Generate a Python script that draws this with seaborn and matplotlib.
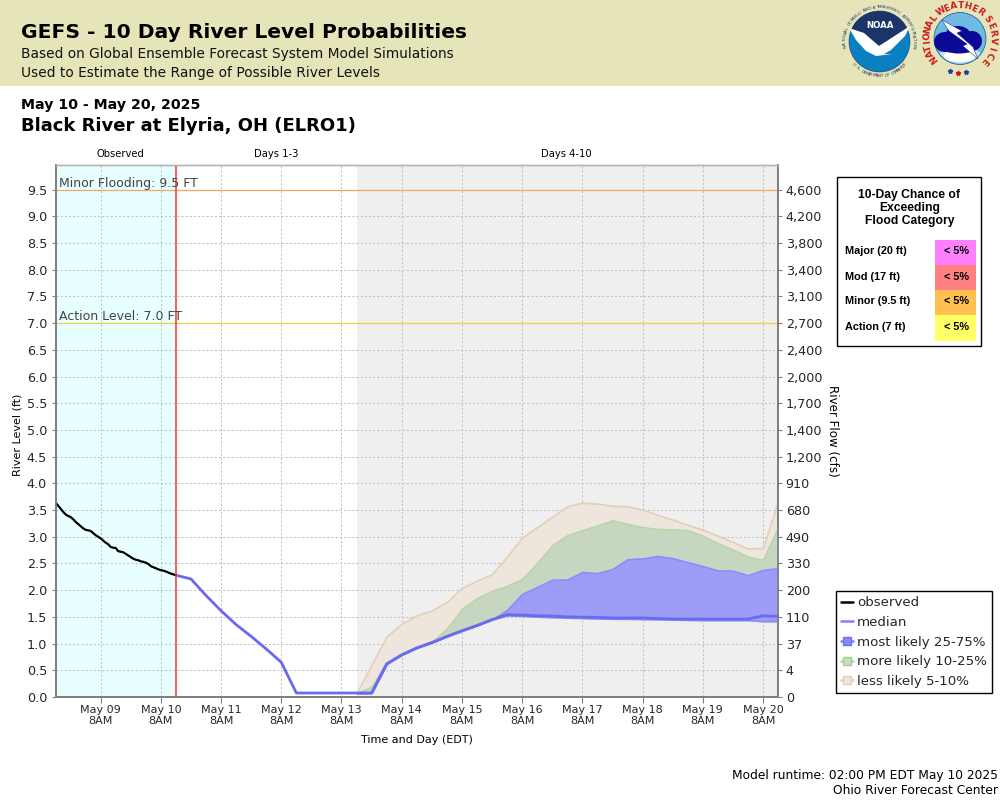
import numpy as np
import pandas as pd
import matplotlib
matplotlib.use("Agg")
import matplotlib.pyplot as plt
import seaborn as sns
from matplotlib.lines import Line2D
from matplotlib.patches import Rectangle, Circle, Polygon, Ellipse, Wedge

observed = [3.64,3.585,3.53,3.47,3.42,3.39,3.37,3.33,3.28,3.24,3.20,3.16,3.13,3.12,3.11,3.07,3.03,3.00,2.97,2.93,
            2.89,2.86,2.81,2.795,2.79,2.73,2.72,2.71,2.68,2.65,2.62,2.59,2.57,2.56,2.54,2.53,2.515,2.49,2.45,2.43,
            2.41,2.39,2.375,2.365,2.35,2.33,2.31,2.295,2.28]
median = [2.28,2.21,1.90,1.615,1.355,1.135,0.90,0.65,0.075,0.075,0.075,0.075,0.075,0.075,
          .62,.79,.92,1.02,1.135,1.24,1.34,1.45,1.54,1.535,1.52,1.515,1.50,1.495,1.49,1.48,1.48,1.48,1.47,
          1.46,1.46,1.46,1.46,1.46,1.46,1.52,1.51]
p25 = [.075,.075,.62,.79,.92,1.02,1.135,1.24,1.34,1.45,1.53,1.52,1.505,1.495,1.485,1.48,1.47,1.465,1.465,1.46,
       1.455,1.45,1.445,1.44,1.44,1.44,1.44,1.42,1.42]
p75 = [.075,.075,.62,.79,.92,1.02,1.135,1.24,1.34,1.45,1.63,1.93,2.06,2.195,2.20,2.34,2.32,2.395,2.58,2.595,
       2.64,2.60,2.525,2.45,2.37,2.365,2.28,2.38,2.41]
p90 = [.075,.19,.65,.79,.92,1.03,1.28,1.65,1.85,1.99,2.08,2.21,2.51,2.84,3.03,3.125,3.21,3.31,3.24,3.18,
       3.145,3.14,3.125,3.02,2.88,2.76,2.63,2.565,3.18]
p95 = [.075,.605,1.135,1.37,1.53,1.62,1.78,2.04,2.18,2.30,2.63,2.99,3.18,3.38,3.57,3.64,3.62,3.58,3.57,3.51,
       3.41,3.32,3.225,3.13,3.02,2.90,2.78,2.79,3.66]
level_ticks = [0.0,0.5,1.0,1.5,2.0,2.5,3.0,3.5,4.0,4.5,5.0,5.5,6.0,6.5,7.0,7.5,8.0,8.5,9.0,9.5]
flow_labels = ["0","4","37","110","200","330","490","680","910","1,200","1,400","1,700","2,000","2,400",
               "2,700","3,100","3,400","3,800","4,200","4,600"]
categories = ["Major (20 ft)","Mod (17 ft)","Minor (9.5 ft)","Action (7 ft)"]
chances = ["< 5%","< 5%","< 5%","< 5%"]
cat_colors = ["#FF80FF","#FF8080","#FFC050","#FFFF66"]

t_obs = pd.date_range("2025-05-08 14:00", periods=len(observed), freq="h")
t_med = pd.date_range("2025-05-10 14:00", periods=len(median), freq="6h")
t_band = pd.date_range("2025-05-13 14:00", periods=len(p95), freq="6h")
t_ticks = pd.date_range("2025-05-09 08:00", "2025-05-20 08:00", freq="D")
x0 = pd.Timestamp("2025-05-08 14:00")
run = pd.Timestamp("2025-05-10 14:00")
gray0 = pd.Timestamp("2025-05-13 14:00")
x1 = pd.Timestamp("2025-05-20 14:00")

sns.set_theme(style="white")
plt.rcParams["font.family"] = ["DejaVu Sans"]
fig = plt.figure(figsize=(10, 8), dpi=100, facecolor="white")

# page overlay in pixel coordinates
pg = fig.add_axes([0, 0, 1, 1], zorder=0)
pg.set_xlim(0, 1000); pg.set_ylim(800, 0); pg.axis("off")
pg.add_patch(Rectangle((0, 0), 1000, 86, fc="#E5E5B9", ec="none"))

def T(x, y, s, size, ha="left", va="center", **kw):
    pg.text(x, y, s, fontsize=size, ha=ha, va=va, color=kw.pop("color", "black"), **kw)

T(21, 33, "GEFS - 10 Day River Level Probabilities", 14.6, weight="bold")
T(21, 54, "Based on Global Ensemble Forecast System Model Simulations", 9.95, color="#111111")
T(21, 73, "Used to Estimate the Range of Possible River Levels", 9.95, color="#111111")
T(21, 105, "May 10 - May 20, 2025", 10.2, weight="bold")
T(21, 126, "Black River at Elyria, OH (ELRO1)", 13, weight="bold")
T(120, 154, "Observed", 7.2, ha="center")
T(276, 154, "Days 1-3", 7.2, ha="center")
T(566, 154, "Days 4-10", 7.2, ha="center")
T(17.5, 435, "River Level (ft)", 8.0, ha="center", rotation=90)
T(832, 431, "River Flow (cfs)", 8.6, ha="center", rotation=-90)
T(417, 740, "Time and Day (EDT)", 8, ha="center")
T(998, 775, "Model runtime: 02:00 PM EDT May 10 2025", 8.8, ha="right")
T(998, 791, "Ohio River Forecast Center", 8.8, ha="right")

# main chart
ax = fig.add_axes([55.5/1000, 1-697/800, 722.5/1000, (697-164.5)/800], zorder=1)
ax.set_facecolor("white")
sns.lineplot(x=t_med, y=median, ax=ax, color="#6A6AF0", lw=2.0, zorder=5, legend=False)
sns.lineplot(x=t_obs, y=observed, ax=ax, color="black", lw=1.6, zorder=6, legend=False)
ax.axvspan(x0, run, color="#E8FFFF", lw=0, zorder=0)
ax.axvspan(gray0, x1, color="#EFEFEF", lw=0, zorder=0)
ax.grid(True, color="#C2C2C2", ls=(0, (2, 2)), lw=0.75, zorder=1)
ax.set_axisbelow(True)

ax.fill_between(t_band, p25, p95, fc="#EEE6DC", ec="#E2CFB8", lw=1.2, zorder=2)
ax.fill_between(t_band, p25, p90, fc="#C7D6C0", ec="#B8D6A8", lw=1.2, zorder=3)
ax.fill_between(t_band, p25, p75, fc="#9D9DF8", ec="#8C8CFF", lw=1.2, zorder=4)
ax.axvline(run, color="#FF3030", lw=1.1, zorder=7)
ax.axhline(9.5, color="#F0A860", lw=0.9, zorder=2.5)
ax.axhline(7.0, color="#F4CE3C", lw=0.9, zorder=2.5)
ax.set_xlim(x0, x1)
ax.set_ylim(0, 9.97)
ax.text(0.005, 9.5, "Minor Flooding: 9.5 FT", transform=ax.get_yaxis_transform(), fontsize=9, color="#444444", va="bottom", zorder=8)
ax.text(0.005, 7.0, "Action Level: 7.0 FT", transform=ax.get_yaxis_transform(), fontsize=9, color="#444444", va="bottom", zorder=8)

ax.set_xticks(t_ticks)
ax.set_xticklabels([d.strftime("%b %d") + "\n8AM" for d in t_ticks], fontsize=8, linespacing=1.05)
ax.set_yticks(level_ticks)
ax.set_yticklabels([f"{v:.1f}" for v in level_ticks], fontsize=9.2)
ax.tick_params(axis="both", length=3, width=0.8, color="#808080", pad=3, left=True, bottom=True)
ax.tick_params(axis="y", pad=3)
ax.tick_params(axis="x", pad=2, length=4)
ax.set_xlabel(""); ax.set_ylabel("")

ax2 = ax.twinx()
ax2.set_ylim(ax.get_ylim())
ax2.set_yticks(level_ticks)
ax2.set_yticklabels(flow_labels, fontsize=9.2)
ax2.tick_params(axis="y", length=3, width=0.8, color="#808080", pad=2.5, right=True)
ax2.grid(False)
for a in (ax, ax2):
    for k, s in a.spines.items():
        s.set_color("#808080" if k != "top" else "#B5B5B5")
        s.set_linewidth(1.3 if k != "top" else 1.0)
        s.set_visible(True)

# flood-category box
pg.add_patch(Rectangle((836.5, 176.5), 144, 169, fc="white", ec="black", lw=1))
for i, line in enumerate(["10-Day Chance of", "Exceeding", "Flood Category"]):
    T(909.5, 195 + i*13, line, 8.75, ha="center", family="Liberation Sans", weight="bold")
for i, (c, p, col) in enumerate(zip(categories, chances, cat_colors)):
    y = 240 + i*25
    pg.add_patch(Rectangle((935, y), 41, 25.5 if i < 3 else 26, fc=col, ec="none"))
    T(845, y+11.5, c, 7.8, family="Liberation Sans", weight="bold")
    T(969.5, y+11.5, p, 7.8, ha="right", family="Liberation Sans", weight="bold")

# legend
handles = [
    Line2D([], [], color="black", lw=1.8),
    Line2D([], [], color="#8080FF", lw=1.8),
    Line2D([], [], color="#8080FF", lw=1.8, marker="s", ms=6, mfc="#8888FF", mec="#7070FF"),
    Line2D([], [], color="#B0D8A0", lw=1.8, marker="s", ms=6, mfc="#C7DDBB", mec="#A8CC98"),
    Line2D([], [], color="#E2CFB8", lw=1.8, marker="s", ms=6, mfc="#EEE6DC", mec="#E2CFB8"),
]
labels = ["observed", "median", "most likely 25-75%", "more likely 10-25%", "less likely 5-10%"]
leg = fig.legend(handles, labels, loc="upper left", bbox_to_anchor=(835.5/1000, 1-591/800), fontsize=9.6,
                 frameon=True, fancybox=False, framealpha=1, edgecolor="black", borderaxespad=0,
                 handlelength=0.95, handletextpad=0.27, labelspacing=0.5, borderpad=0.39)
leg.get_frame().set_linewidth(1)
leg.set_zorder(5)

def ring_text(cx, cy, r, s, a0, a1, size, color, flip=False, weight="normal"):
    angs = np.linspace(a0, a1, len(s))
    for ch, a in zip(s, angs):
        x = cx + r*np.cos(np.radians(a)); y = cy - r*np.sin(np.radians(a))
        rot = a + 90 if flip else a - 90
        pg.text(x, y, ch, fontsize=size, color=color, ha="center", va="center", rotation=rot, weight=weight, zorder=6)

# NOAA logo (the page axis has y pointing down, so wedge angles run clockwise on screen)
cx, cy, r = 879.5, 41.5, 30.5
pg.add_patch(Circle((cx, cy), r, fc="#0A7FC2", ec="#1B3A70", lw=0.4, zorder=3))
pg.add_patch(Wedge((cx, cy), r, 205, 335, fc="#1C3468", ec="none", zorder=3))
pg.add_patch(Polygon([(852, 28), (908, 28), (879, 47)], fc="#1C3468", ec="none", zorder=3))
pg.add_patch(Polygon([(849, 28), (864, 33), (879, 46), (893, 37), (910, 26), (905, 36), (891, 50), (884, 54),
                      (892, 54), (876, 56), (866, 51), (856, 40)], fc="white", ec="none", zorder=4))
pg.text(cx, 25.5, "NOAA", fontsize=6.2, color="white", ha="center", va="center", weight="bold", zorder=5)
ring_text(cx, cy, 34.5, "NATIONAL OCEANIC AND ATMOSPHERIC ADMINISTRATION", 188, -8, 3, "#1C3468")
ring_text(cx, cy, 34.5, "U.S. DEPARTMENT OF COMMERCE", 222, 318, 3, "#1C3468", flip=True)

# NWS logo
cx, cy = 960, 38.5
pg.add_patch(Circle((cx, cy), 26, fc="#6FBBE0", ec="#1B4C9A", lw=0.5, zorder=3))
pg.add_patch(Wedge((cx, cy), 25, 35, 145, fc="#BFE4F2", ec="none", zorder=3))
pg.add_patch(Ellipse((960, 56), 32, 12, fc="white", ec="none", zorder=3.5))
for ex, ey, ew, eh in [(945, 42, 22, 20), (958, 36, 26, 20), (972, 41, 20, 20), (959, 47, 36, 13)]:
    pg.add_patch(Ellipse((ex, ey), ew, eh, fc="#0A0A96", ec="none", zorder=4))
pg.add_patch(Polygon([(942, 20), (962, 31), (957, 33), (973, 47), (978, 59), (963, 46), (967, 44), (949, 31)],
                     fc="white", ec="#0A0A96", lw=0.3, zorder=5))
ring_text(cx, cy, 33, "NATIONAL", 218, 143, 6.3, "#D01818", weight="bold")
ring_text(cx, cy, 33, "WEATHER", 125, 52, 6.3, "#D01818", weight="bold")
ring_text(cx, cy, 33, "SERVICE", 35, -42, 6.3, "#D01818", flip=False, weight="bold")
for sx, sy, col in [(950, 71, "#2040A0"), (958, 73, "#D01818"), (966, 72, "#2040A0")]:
    pg.plot([sx], [sy], marker="*", ms=3.5, color=col, zorder=6)

fig.savefig("out.png", dpi=100)
